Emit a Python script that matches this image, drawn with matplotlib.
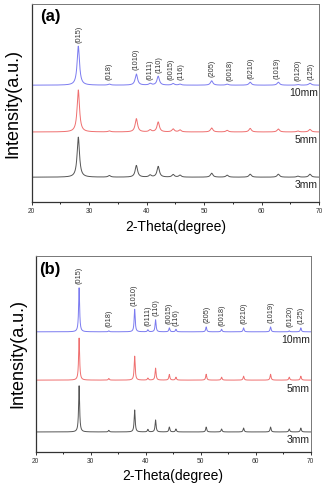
"""
    XRD patterns of samples (a) and (b) at three thicknesses
"""

import numpy as np
import matplotlib
matplotlib.use('AGG')
import matplotlib.pyplot as plt
from matplotlib.ticker import MultipleLocator

plt.rcParams['font.family'] = ['Liberation Sans', 'DejaVu Sans']

# reflections and their labels
hkl = ['(015)', '(018)', '(1010)', '(0111)', '(110)', '(0015)', '(116)',
       '(205)', '(0018)', '(0210)', '(1019)', '(0120)', '(125)']

# panel (a): peak positions (2-theta) and heights (a.u.) per sample
pos_a = [28.1, 33.5, 38.2, 40.6, 42.0, 44.6, 45.8, 51.3, 54.0, 58.0, 62.9, 66.3, 68.4]
h_a_10 = [19.7, 0.5, 5.6, 0.8, 4.5, 0.8, 0.5, 2.2, 0.5, 1.5, 1.5, 0.3, 1.0]
h_a_5 = [21.2, 0.5, 6.7, 1.0, 5.0, 1.5, 1.0, 2.0, 0.8, 1.8, 1.5, 0.5, 1.3]
h_a_3 = [20.2, 0.8, 5.9, 1.0, 5.4, 1.3, 1.0, 2.0, 1.0, 1.5, 1.5, 0.5, 1.5]
label_x_a = [28.2, 33.5, 38.1, 40.6, 42.1, 44.2, 46.0, 51.3, 54.5, 58.1, 62.7, 66.3, 68.5]

# panel (b)
pos_b = [27.9, 33.3, 38.0, 40.4, 41.8, 44.3, 45.5, 51.0, 53.8, 57.8, 62.7, 66.1, 68.2]
h_b_10 = [22.4, 0.5, 11.5, 1.0, 6.1, 2.0, 1.3, 2.5, 1.3, 2.0, 2.5, 0.5, 2.0]
h_b_5 = [21.4, 0.8, 12.2, 1.0, 6.1, 2.9, 1.5, 3.0, 1.5, 2.0, 3.0, 1.5, 2.0]
h_b_3 = [23.5, 0.8, 11.2, 1.3, 6.1, 2.5, 1.5, 2.5, 1.5, 2.0, 2.5, 1.5, 2.0]
label_x_b = [27.9, 33.4, 37.9, 40.4, 41.9, 44.3, 45.6, 51.1, 53.9, 57.9, 62.8, 66.3, 68.3]

samples = ['10mm', '5mm', '3mm']
colors = ['#7b7bf0', '#ef6f6f', '#555555']
offsets_a = [59.0, 35.4, 12.6]
offsets_b = [61.2, 36.6, 10.2]


def pattern(x, pos, heights, hw):
    y = np.zeros_like(x)
    for p, h in zip(pos, heights):
        y += h / (1 + ((x - p) / hw) ** 2)
    return y


def panel(ax, tag, pos, hs, offs, lab_x, hw, lab_gap, name_gap, tag_xy):
    x = np.linspace(20, 70, 6001)
    for h, off, c, s in zip(hs, offs, colors, samples):
        ax.plot(x, pattern(x, pos, h, hw) + off, color=c, lw=0.7)
        ax.text(69.8, off - name_gap, s, ha='right', va='center',
                fontsize=7.5, color='#222222')
    top = pattern(np.array(pos), pos, hs[0], hw) + offs[0]
    for lx, ly, t in zip(lab_x, top, hkl):
        ax.text(lx, ly + lab_gap, t, rotation=90, ha='center', va='bottom',
                fontsize=5.3, color='#333333')
    ax.text(tag_xy[0], tag_xy[1], tag, transform=ax.transAxes, fontsize=12,
            fontweight='bold', ha='center', va='center')

    ax.set_xlim(20, 70)
    ax.set_ylim(0, 100)
    ax.set_yticks([])
    ax.xaxis.set_major_locator(MultipleLocator(10))
    ax.xaxis.set_minor_locator(MultipleLocator(5))
    ax.tick_params(axis='x', which='major', direction='out', length=2,
                   width=0.7, labelsize=4.8, pad=2, colors='#333333')
    ax.tick_params(axis='x', which='minor', direction='out', length=1.5,
                   width=0.6)
    for side in ['left', 'bottom']:
        ax.spines[side].set_color('#333333')
        ax.spines[side].set_linewidth(0.9)
    for side in ['top', 'right']:
        ax.spines[side].set_color('#777777')
        ax.spines[side].set_linewidth(0.7)
    ax.set_xlabel('2-Theta(degree)', fontsize=10)
    ax.set_ylabel('Intensity(a.u.)', fontsize=13)


def main():
    fig = plt.figure(figsize=(3.24, 4.86), dpi=100)
    ax_a = fig.add_axes([0.098, 0.584, 0.887, 0.408])
    ax_b = fig.add_axes([0.110, 0.070, 0.849, 0.404])

    panel(ax_a, '(a)', pos_a, [h_a_10, h_a_5, h_a_3], offsets_a,
          label_x_a, 0.25, 1.8, 4.0, (0.064, 0.936))
    ax_a.xaxis.set_label_coords(0.5, -0.088)
    ax_a.yaxis.set_label_coords(-0.037, 0.5)

    panel(ax_b, '(b)', pos_b, [h_b_10, h_b_5, h_b_3], offsets_b,
          label_x_b, 0.11, 1.8, 4.3, (0.052, 0.93))
    ax_b.xaxis.set_label_coords(0.5, -0.088)
    ax_b.yaxis.set_label_coords(-0.033, 0.5)

    fig.savefig('out.png', dpi=100)


if __name__ == '__main__':
    main()
